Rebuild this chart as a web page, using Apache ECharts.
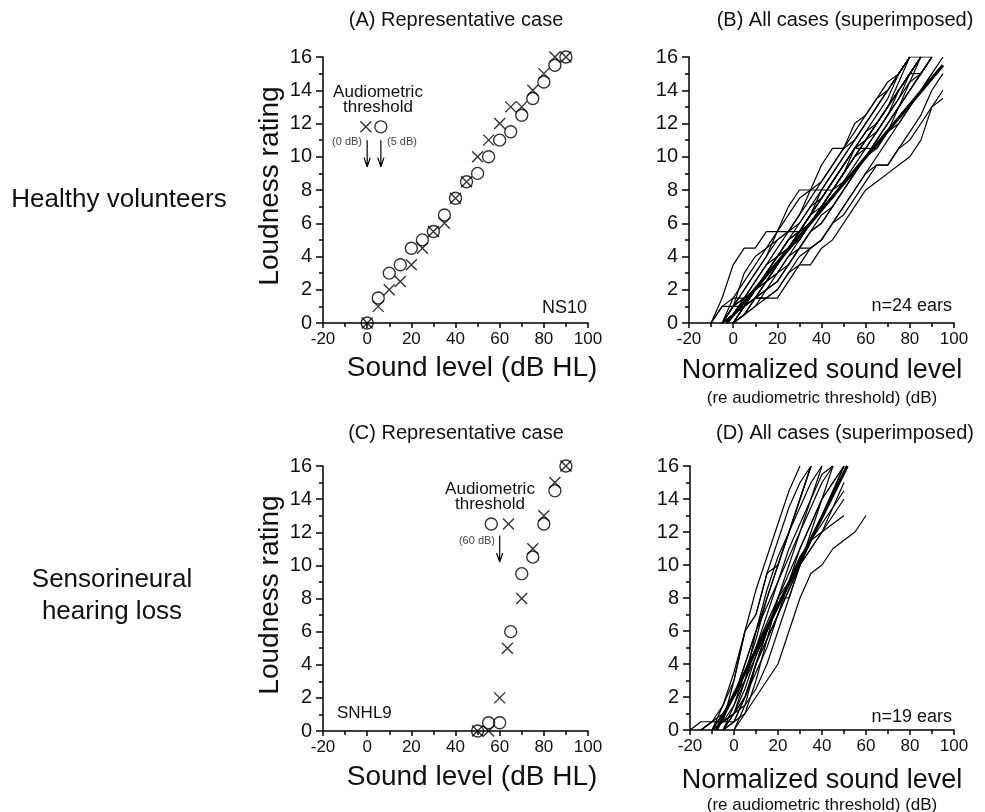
<!DOCTYPE html>
<html>
<head>
<meta charset="utf-8">
<script src="https://cdn.jsdelivr.net/npm/echarts@6/dist/echarts.min.js"></script>
<style>html,body{margin:0;padding:0;background:#fff;}#c{width:985px;height:812px;}</style>
</head>
<body>
<div id="c"></div>
<script>
// ---------- tick labels ----------
const xTicks = [-20, 0, 20, 40, 60, 80, 100];
const yTicks = [0, 2, 4, 6, 8, 10, 12, 14, 16];

// ---------- Panel A: representative healthy case (NS10) ----------
const aLevels   = [0, 5, 10, 15, 20, 25, 30, 35, 40, 45, 50, 55, 60, 65, 70, 75, 80, 85, 90];
const aCross    = [0, 1, 2, 2.5, 3.5, 4.5, 5.5, 6, 7.5, 8.5, 10, 11, 12, 13, 13, 14, 15, 16, 16];
const aCircle   = [0, 1.5, 3, 3.5, 4.5, 5, 5.5, 6.5, 7.5, 8.5, 9, 10, 11, 11.5, 12.5, 13.5, 14.5, 15.5, 16];
const aThreshCross  = [-0.6, 11.8];
const aThreshCircle = [6.2, 11.8];
const aArrowX = [0, 6.2];

// ---------- Panel C: representative SNHL case (SNHL9) ----------
const cCrossLevels  = [50, 55, 60, 63.5, 70, 75, 80, 85, 90];
const cCross        = [0, 0, 2, 5, 8, 11, 13, 15, 16];
const cCircleLevels = [50, 55, 60, 65, 70, 75, 80, 85, 90];
const cCircle       = [0, 0.5, 0.5, 6, 9.5, 10.5, 12.5, 14.5, 16];
const cThreshCross  = [64, 12.5];
const cThreshCircle = [56.2, 12.5];
const cArrowX = [60];

// ---------- Panel B: all healthy ears (start level, ratings every 5 dB) ----------
const bStarts = [-10, -10, -5, -5, -5, 0, -5, 0, -5, 0, 0, 0, 0, -5, 0, -5, -10, -5, 0, -5, 0, -5, 0, -5];
const bRatings = [
  [0,1.5,3.5,4.5,4.5,5.5,5.5,7,8,8,9.5,10.5,10.5,12,12.5,13.5,14,15,16],
  [0,1,1,3,4,4.5,5.5,6.5,7.5,8,8.5,9.5,10.5,11,12,13,14,15,16,16],
  [0,1.5,1.5,2.5,3.5,4.5,5.5,5.5,6.5,8,8,9,10.5,10.5,11.5,12.5,13.5,15,16,16],
  [0,1,2,3,4,5,5.5,6,7,7.5,8.5,9.5,10.5,11.5,12,13,14,15,16],
  [0,0.5,1.5,2.5,3.5,4,5,5.5,6,7,8,9,10,11,12,13,14,15,15,16],
  [0,1,2,2.5,3,4,4.5,5.5,6,7,8,9,10,11,12,13,14.5,16],
  [0,1,1.5,2,2.5,3.5,4.5,5,6,7,8,9,10,11,11.5,12.5,14,15,16],
  [0,0.5,1.5,2,3,3.5,4.5,5.5,6.5,7,8,9,10,11,12,13,14,15,16],
  [0,0.5,1,1.5,2.5,3.5,4.5,5.5,6,7,8,8.5,9.5,10.5,11.5,12.5,13.5,14.5,15,16],
  [0,1,1.5,2,2.5,3.5,4.5,4.5,5,6,7,8,9,10,11,12,13,14,15],
  [0,0.5,1,1.5,1.5,2.5,3.5,3.5,4.5,5,6,7,8,8.5,9,9.5,10,11,13,13.5],
  [0,0.5,1.5,1.5,2,3,3.5,4.5,5,6,6.5,7.5,8.5,9.5,9.5,10.5,11,12,13,14],
  [0,1,1.5,1.5,2,3,4,4.5,5,6,7,8,9,9.5,9.5,10.5,11.5,12.5,14,15],
  [0,1,1.5,2,3,4,5,5.5,6.5,7,8,9,10,10.5,10.5,11.5,13,14,15,16],
  [0,1,2,3,3.5,4.5,5.5,6,7,8,9,10,11,12,13,14,15,16],
  [0,0.5,1,2,3,4,5,6,7,8,9,10,11,12,13,14,15,16],
  [0,1,1.5,2.5,3.5,4.5,5,5.5,6.5,8,8,9,10,11,12,13,14,15,16],
  [0,1,2,3,4,5.5,5.5,6.5,7.5,8.5,9.5,10.5,11.5,12.5,13.5,14.5,15,16],
  [0,1,2,3,4,4.5,5.5,6.5,7.5,8.5,9.5,10.5,11,12,13,14,15,16],
  [0,1,1,2,3,4,4.5,5.5,6.5,7.5,8.5,9.5,10.5,11.5,12.5,13.5,15,16],
  [0,0.5,1,2,2.5,3.5,4.5,5.5,6,7,8,9,10,11,12,13,14,15,16],
  [0,0.5,1.5,2,3,4,5,5.5,6.5,7.5,8.5,9.5,10.5,11,12,13,14,15,16],
  [0,1,1.5,2.5,3.5,4.5,5,6,7,7.5,8.5,9,10,10.5,11.5,12,13,14,15,16],
  [0,0.5,1,1.5,2.5,3,4,5,6,7,8,9,10,11,12,13,14.5,16]
];
const bMean = [[-3, 0], [95, 15.5]];

// ---------- Panel D: all SNHL ears ----------
const dStarts = [-20, -15, -10, -5, -10, -5, -10, -5, -10, -5, -10, -10, -5, 0, -15, -5, -10, -15, 0];
const dRatings = [
  [0,0.5,0.5,0.5,3,6,7,9.5,11.5,13.5,15,16],
  [0,0.5,1.5,3,6,7,9.5,10,12,14,16],
  [0,1.5,3.5,6,8.5,10.5,12.5,14.5,16],
  [0,1,3,6,8.5,10.5,12,14,16],
  [0,1,2,4,6,7.5,9,10.5,12,13.5,15,16],
  [0,0.5,2,4,5.5,7,8.5,10,11.5,13,14.5,16],
  [0,0.5,1.5,3.5,5,6.5,8,9.5,11,12.5,14,15,16],
  [0,1,2.5,4.5,6,7.5,9,10.5,11.5,12.5,13.5,14.5],
  [0,0.5,1,1.5,2.5,4,6,8,10,11,12,13,14],
  [0,0.5,1,2,3,4,6,8,9.5,10,11,11.5,12,13],
  [0,1,2,3,4.5,6,7.5,9,10.5,11.5,12,12.5,13],
  [0,1,2,4,6,8,10,12,13.5,15,16],
  [0,1.5,3,5,7,9,11,12.5,14,15.5,16],
  [0,1,3,5.5,8,10,12,14,16],
  [0,0.5,1,2,3.5,5.5,8,10,12,14,16],
  [0,1,2,4,5.5,7,8.5,10,11.5,13,14.5,16],
  [0,0.5,1,2,3.5,5,7,9,11,12.5,14,15,16],
  [0,0.5,0.5,0.5,2,4,6,8,8,10,12,14,16],
  [0,1.5,4,6,8,9,10,11,12,13.5,15]
];
const dMean = [[-8, 0], [51.5, 16]];

// ---------- helpers ----------
const FONT = '"Liberation Sans", Arial, Helvetica, sans-serif';
const INK = '#111';
const pairs = (xs, ys) => xs.map((x, i) => [x, ys[i]]);
const stepLine = (start, ys) => ys.map((y, i) => [start + 5 * i, y]);
const arrow = (x, yTop, yTip) => [[x, yTop], [x, yTip], [x - 1.4, yTip + 0.55], [x, yTip], [x + 1.4, yTip + 0.55]];
const CROSS = 'path://M0,0L10,10M10,0L0,10';

const grids = [
  {left: 323, top: 57, width: 265, height: 266},
  {left: 689, top: 57, width: 265, height: 266},
  {left: 323, top: 466, width: 265, height: 265},
  {left: 690, top: 466, width: 264, height: 264}
];
const axisLine = {show: true, onZero: false, lineStyle: {color: '#000', width: 1.5}};
const xAxes = grids.map((g, i) => ({
  type: 'value', gridIndex: i, min: xTicks[0], max: xTicks[xTicks.length - 1], interval: xTicks[1] - xTicks[0],
  axisLine: axisLine,
  axisTick: {show: true, length: 5, lineStyle: {color: '#000', width: 1.5}},
  minorTick: {show: true, splitNumber: 2, length: 4, lineStyle: {color: '#000', width: 1.5}},
  splitLine: {show: false},
  axisLabel: {fontSize: 17, color: INK, fontFamily: FONT, margin: 8}
}));
const yAxes = grids.map((g, i) => ({
  type: 'value', gridIndex: i, min: yTicks[0], max: yTicks[yTicks.length - 1], interval: yTicks[1] - yTicks[0],
  axisLine: axisLine,
  axisTick: {show: true, length: 7, lineStyle: {color: '#000', width: 1.5}},
  minorTick: {show: true, splitNumber: 2, length: 4, lineStyle: {color: '#000', width: 1.5}},
  splitLine: {show: false},
  axisLabel: {fontSize: 20, color: INK, fontFamily: FONT, margin: 11}
}));

const series = [];
function circles(idx, data) {
  series.push({type: 'scatter', xAxisIndex: idx, yAxisIndex: idx, data, symbol: 'circle', symbolSize: 12,
    itemStyle: {color: 'rgba(0,0,0,0)', borderColor: '#000', borderWidth: 1.4}, silent: true, z: 3});
}
function crosses(idx, data) {
  series.push({type: 'scatter', xAxisIndex: idx, yAxisIndex: idx, data, symbol: CROSS, symbolSize: 11,
    itemStyle: {color: 'rgba(0,0,0,0)', borderColor: '#000', borderWidth: 1.4}, silent: true, z: 4});
}
function poly(idx, data, w) {
  series.push({type: 'line', xAxisIndex: idx, yAxisIndex: idx, data, showSymbol: false, symbol: 'none',
    lineStyle: {color: '#000', width: w}, silent: true, z: 2});
}

// Panel A
circles(0, pairs(aLevels, aCircle).concat([aThreshCircle]));
crosses(0, pairs(aLevels, aCross).concat([aThreshCross]));
aArrowX.forEach(x => poly(0, arrow(x, 11.0, 9.4), 1.2));
// Panel B
bRatings.forEach((ys, i) => poly(1, stepLine(bStarts[i], ys), 1.2));
poly(1, bMean, 3);
// Panel C
circles(2, pairs(cCircleLevels, cCircle).concat([cThreshCircle]));
crosses(2, pairs(cCrossLevels, cCross).concat([cThreshCross]));
cArrowX.forEach(x => poly(2, arrow(x, 11.8, 10.2), 1.2));
// Panel D
dRatings.forEach((ys, i) => poly(3, stepLine(dStarts[i], ys), 1.2));
poly(3, dMean, 3);

function txt(text, x, y, size, align, fill, extra) {
  return Object.assign({type: 'text', x, y, silent: true,
    style: {text, fill: fill || INK, font: size + 'px ' + FONT, align: align || 'center', verticalAlign: 'middle'}}, extra || {});
}
const graphics = [
  txt('(A) Representative case', 456, 20, 20),
  txt('(B) All cases (superimposed)', 845, 20, 20),
  txt('(C) Representative case', 456, 433, 20),
  txt('(D) All cases (superimposed)', 845, 433, 20),
  txt('Healthy volunteers', 119, 200, 26),
  txt('Sensorineural', 112, 580, 26),
  txt('hearing loss', 112, 612, 26),
  txt('Loudness rating', 270, 186, 28, 'center', null, {rotation: Math.PI / 2}),
  txt('Loudness rating', 270, 595, 28, 'center', null, {rotation: Math.PI / 2}),
  txt('Sound level (dB HL)', 472, 368, 28),
  txt('Sound level (dB HL)', 472, 777, 28),
  txt('Normalized sound level', 822, 371, 27),
  txt('(re audiometric threshold) (dB)', 822, 398, 17),
  txt('Normalized sound level', 822, 781, 27),
  txt('(re audiometric threshold) (dB)', 822, 805, 17),
  txt('NS10', 587, 308, 18, 'right'),
  txt('n=24 ears', 952, 306, 18, 'right'),
  txt('SNHL9', 337, 713, 17, 'left'),
  txt('n=19 ears', 952, 717, 18, 'right'),
  txt('Audiometric', 378, 92, 17),
  txt('threshold', 378, 107, 17),
  txt('(0 dB)', 362, 142, 11, 'right', '#444'),
  txt('(5 dB)', 387, 142, 11, 'left', '#444'),
  txt('Audiometric', 490, 489, 17),
  txt('threshold', 490, 504, 17),
  txt('(60 dB)', 495, 541, 11, 'right', '#444')
];

const chart = echarts.init(document.getElementById('c'), null, {renderer: 'canvas'});
chart.setOption({
  animation: false,
  backgroundColor: '#fff',
  grid: grids,
  xAxis: xAxes,
  yAxis: yAxes,
  series: series,
  graphic: graphics
});
</script>
</body>
</html>
